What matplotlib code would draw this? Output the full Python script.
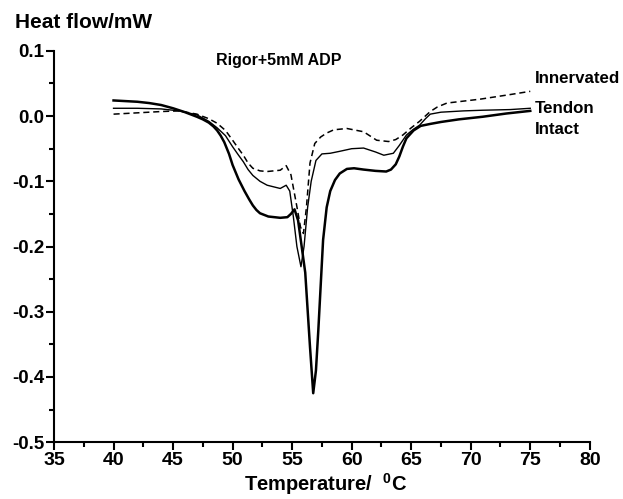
import numpy as np
import matplotlib
matplotlib.use('Agg')
import matplotlib.pyplot as plt
from matplotlib.ticker import MultipleLocator

plt.rcParams['font.family'] = ['Liberation Sans', 'DejaVu Sans']
plt.rcParams['font.weight'] = 'bold'
plt.rcParams['mathtext.fontset'] = 'custom'
plt.rcParams['mathtext.rm'] = 'Liberation Sans:bold'
plt.rcParams['mathtext.bf'] = 'Liberation Sans:bold'

#==============================================================================
# data
#==============================================================================

intact_T = [40, 41, 42, 43, 44, 45, 46, 47, 47.5, 48, 48.4, 48.7, 49.0, 49.3,
            49.7, 50, 50.5, 51, 51.4, 51.7, 52.0, 52.3, 53, 54, 54.6, 54.9,
            55.2, 55.5, 55.8, 56.1, 56.5, 56.77, 57.0, 57.2, 57.6, 57.9, 58.2,
            58.6, 59.0, 59.6, 60.2, 61, 62, 62.9, 63.3, 63.7, 64, 64.3, 64.6,
            65.2, 65.8, 66.6, 67.5, 69, 71, 73, 75]
intact_Q = [0.024, 0.023, 0.022, 0.020, 0.017, 0.012, 0.006, -0.001, -0.005,
            -0.010, -0.016, -0.022, -0.030, -0.040, -0.058, -0.075, -0.097,
            -0.115, -0.128, -0.137, -0.144, -0.149, -0.154, -0.156, -0.155,
            -0.150, -0.143, -0.160, -0.200, -0.240, -0.354, -0.425, -0.390,
            -0.328, -0.190, -0.140, -0.115, -0.098, -0.088, -0.081, -0.080,
            -0.082, -0.084, -0.085, -0.082, -0.074, -0.062, -0.047, -0.034,
            -0.022, -0.015, -0.012, -0.009, -0.005, -0.001, 0.004, 0.008]

tendon_T = [40, 42, 44, 45.5, 47, 48, 48.7, 49.4, 50, 50.5, 50.9, 51.3, 51.7,
            52.3, 52.9, 54, 54.5, 54.8, 55.1, 55.4, 55.74, 56.0, 56.3, 56.6,
            57.0, 57.5, 58.2, 59, 60, 61, 62, 62.7, 63.5, 64, 64.6, 65.2, 65.7,
            66.2, 66.6, 67.5, 69.4, 71, 73.3, 75]
tendon_Q = [0.012, 0.012, 0.011, 0.008, 0.002, -0.008, -0.018, -0.030, -0.047,
            -0.060, -0.070, -0.082, -0.091, -0.100, -0.106, -0.111, -0.106,
            -0.115, -0.154, -0.200, -0.231, -0.200, -0.140, -0.100, -0.068,
            -0.058, -0.057, -0.054, -0.050, -0.049, -0.055, -0.060, -0.057,
            -0.045, -0.029, -0.020, -0.014, -0.004, 0.003, 0.006, 0.008, 0.009,
            0.010, 0.012]

innerv_T = [40, 42, 44, 45.5, 47, 48, 48.7, 49.4, 50, 50.5, 50.9, 51.3, 51.7,
            52.3, 52.9, 54, 54.5, 54.9, 55.4, 55.7, 55.95, 56.2, 56.5, 56.9,
            57.4, 57.9, 58.5, 59.6, 61, 62.1, 63.1, 63.7, 64.3, 65, 65.7, 66.6,
            67.2, 68, 70.8, 73.3, 75]
innerv_Q = [0.003, 0.005, 0.007, 0.008, 0.003, -0.004, -0.011, -0.022, -0.037,
            -0.050, -0.060, -0.072, -0.080, -0.084, -0.085, -0.083, -0.076,
            -0.090, -0.139, -0.170, -0.180, -0.140, -0.072, -0.042, -0.032,
            -0.026, -0.021, -0.019, -0.024, -0.037, -0.039, -0.036, -0.029,
            -0.018, -0.008, 0.007, 0.014, 0.020, 0.026, 0.033, 0.038]

labels = ['Innervated', 'Tendon', 'Intact']

#==============================================================================
# plot
#==============================================================================

fig = plt.figure(figsize=(6.23, 4.99), dpi=100)
ax = fig.add_axes([0.0867, 0.114, 0.860, 0.784])

ax.plot(intact_T, intact_Q, color='k', lw=1.8, solid_joinstyle='round')
ax.plot(tendon_T, tendon_Q, color='k', lw=1.0, solid_joinstyle='round')
ax.plot(innerv_T, innerv_Q, color='k', lw=1.1, ls=(0, (4, 2.5)))

ax.set_xlim(35, 80)
ax.set_ylim(-0.5, 0.1)
ax.spines['top'].set_visible(False)
ax.spines['right'].set_visible(False)
for s in ('left', 'bottom'):
    ax.spines[s].set_linewidth(1.5)

ax.xaxis.set_major_locator(MultipleLocator(5))
ax.xaxis.set_minor_locator(MultipleLocator(2.5))
ax.yaxis.set_minor_locator(MultipleLocator(0.05))
ax.set_yticks(np.arange(-0.5, 0.101, 0.1))
ax.set_yticklabels(['-0.5', '-0.4', '-0.3', '-0.2', '-0.1', '0.0', '0.1'])
ax.tick_params(which='major', direction='out', length=6, width=1.5, pad=1)
ax.tick_params(axis='x', which='major', labelsize=14)
ax.tick_params(axis='y', which='major', labelsize=13.5)
ax.tick_params(which='minor', direction='out', length=3.5, width=1.5)

# axis titles
fig.text(0.523, 0.016, r'Temperature/  $^{0}$C', fontsize=14.5,
         fontweight='bold', ha='center', va='baseline')
fig.text(0.024, 0.954, 'Heat flow/mW', fontsize=15, fontweight='bold',
         va='center', ha='left')

ax.text(53.9, 0.085, 'Rigor+5mM ADP', fontsize=11.5, fontweight='bold',
        ha='center', va='center')
for lab, yy in zip(labels, [0.057, 0.012, -0.021]):
    ax.text(75.4, yy, lab, fontsize=12.2, fontweight='bold',
            ha='left', va='center', clip_on=False)

fig.savefig('out.png', dpi=100)
